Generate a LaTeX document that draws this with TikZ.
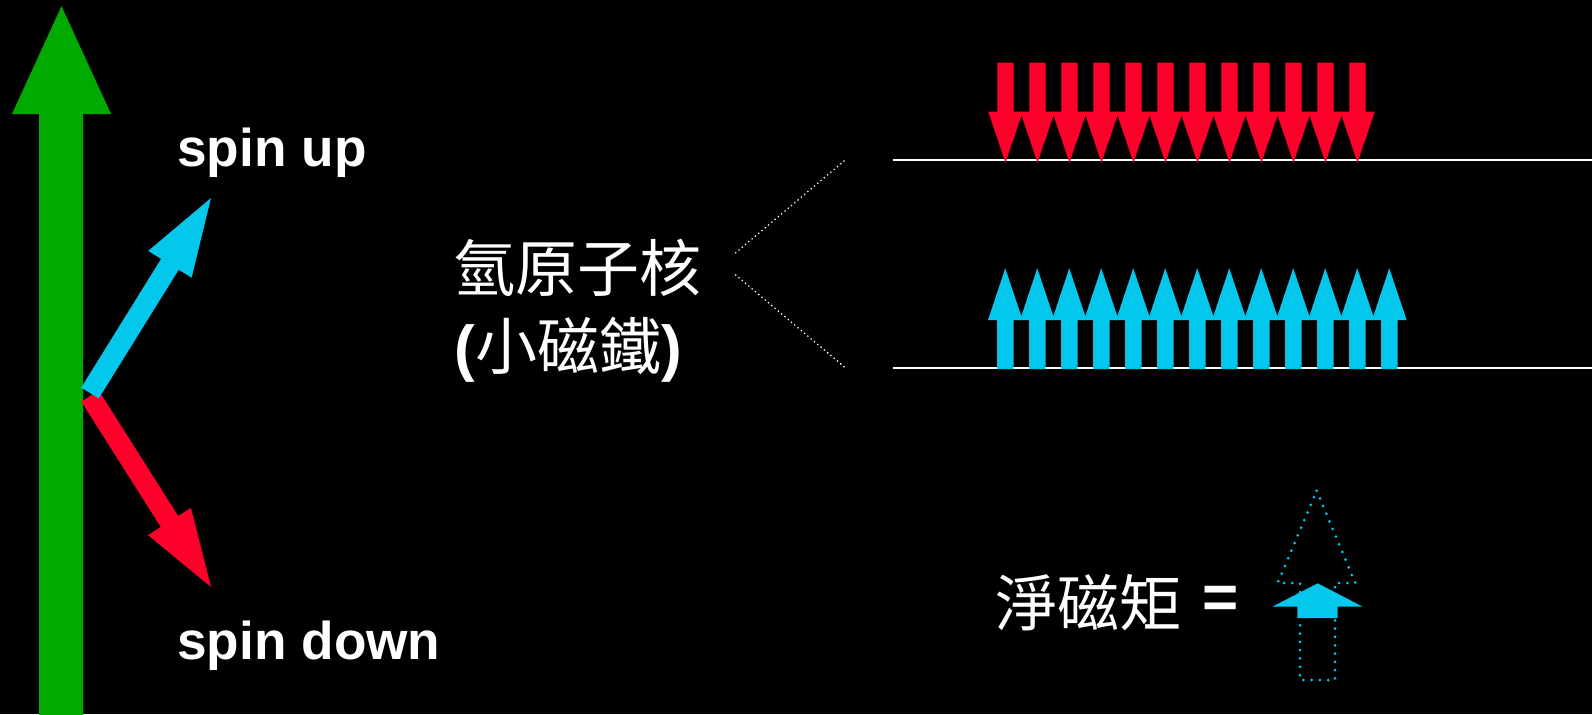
\documentclass[tikz,border=0pt]{standalone}
\usepackage{fontspec}
\setmainfont{Liberation Sans}
\newfontfamily\cjk{Noto Sans CJK TC}
\definecolor{arrowgreen}{RGB}{0,170,0}
\definecolor{spinred}{RGB}{255,0,42}
\definecolor{spincyan}{RGB}{3,200,236}
\tikzset{
  latin/.style={text=white, inner sep=0pt, font=\fontsize{26.6}{31}\selectfont\bfseries},
  cjklabel/.style={text=white, inner sep=0pt, font=\fontsize{31}{37}\selectfont\cjk},
  levelline/.style={draw=white, line width=1pt},
  guide/.style={draw=white, line width=0.9pt, line cap=round, dash pattern=on 0pt off 2.15pt},
  ghost/.style={draw=spincyan, line width=1.5pt, line cap=round, dash pattern=on 0pt off 4.15pt},
}
\begin{document}
\begin{tikzpicture}[x=0.5pt,y=-0.5pt]
\useasboundingbox (0,0) rectangle (1592,714);
\fill[black] (0,0) rectangle (1592,714);

% big green field arrow
\fill[arrowgreen] (39,720) -- (39,114) -- (12,114) -- (61.5,6) -- (111,114) -- (83,114) -- (83,720) -- cycle;

% spin down (red) and spin up (cyan)
\fill[spinred] (81.3,401.5) -- (160.8,527) -- (148,535.1) -- (211,587) -- (191,507.9) -- (178.2,516) -- (98.7,390.5) -- cycle;
\fill[spincyan] (81.2,387.6) -- (161.1,258.9) -- (148.2,250.9) -- (211,198) -- (191.6,277.7) -- (178.7,269.7) -- (98.8,398.4) -- cycle;

\node[latin, anchor=base west] (up) at (177,166) {spin up};
\node[latin, anchor=base west] (down) at (177,659) {spin down};

% hydrogen nucleus labels
\node[cjklabel] (h1) at (577.5,268) {氫原子核};
\node[cjklabel] (h2) at (568,350) {{\fontspec{Liberation Sans}\bfseries (}小磁鐵{\fontspec{Liberation Sans}\bfseries )}};

% energy levels
\coordinate (hi0) at (893,160);
\coordinate (hi1) at (1592,160);
\coordinate (lo0) at (893,367.5);
\coordinate (lo1) at (1592,367.5);
\draw[levelline] (hi0) -- (hi1);
\draw[levelline] (lo0) -- (lo1);

% dotted guide lines
\coordinate (g1a) at (735.7,252.7);
\coordinate (g1b) at (846,159.3);
\coordinate (g2a) at (735.7,275);
\coordinate (g2b) at (846,368.3);
\draw[guide] (g1a) -- (g1b);
\draw[guide] (g2a) -- (g2b);

% red (down) arrows on upper level
\foreach \k in {0,...,11}{
  \pgfmathsetmacro{\cx}{1005.5+32*\k}
  \fill[spinred] (\cx-8.2,62.7) -- (\cx+8.2,62.7) -- (\cx+8.2,111.7) -- (\cx+17.2,111.7) -- (\cx,162.7) -- (\cx-17.2,111.7) -- (\cx-8.2,111.7) -- cycle;
}
% cyan (up) arrows on lower level
\foreach \k in {0,...,12}{
  \pgfmathsetmacro{\cx}{1005.3+32*\k}
  \fill[spincyan] (\cx-8.2,369) -- (\cx+8.2,369) -- (\cx+8.2,320) -- (\cx+17.3,320) -- (\cx,268.3) -- (\cx-17.3,320) -- (\cx-8.2,320) -- cycle;
}

% net magnetic moment
\node[cjklabel] (net) at (1088,603) {淨磁矩};
\node[latin, font=\fontsize{31}{37}\selectfont\bfseries] (eq) at (1221,602) {=};
\draw[ghost] (1316.7,490.7) -- (1355.3,583) -- (1335,583) -- (1335,680) -- (1300,680) -- (1300,583) -- (1277.7,583) -- cycle;
\fill[spincyan] (1297.3,618) -- (1337.7,618) -- (1337.7,606.7) -- (1362.7,606.7) -- (1317.7,583.3) -- (1272.3,606.7) -- (1297.3,606.7) -- cycle;
\end{tikzpicture}
\end{document}
